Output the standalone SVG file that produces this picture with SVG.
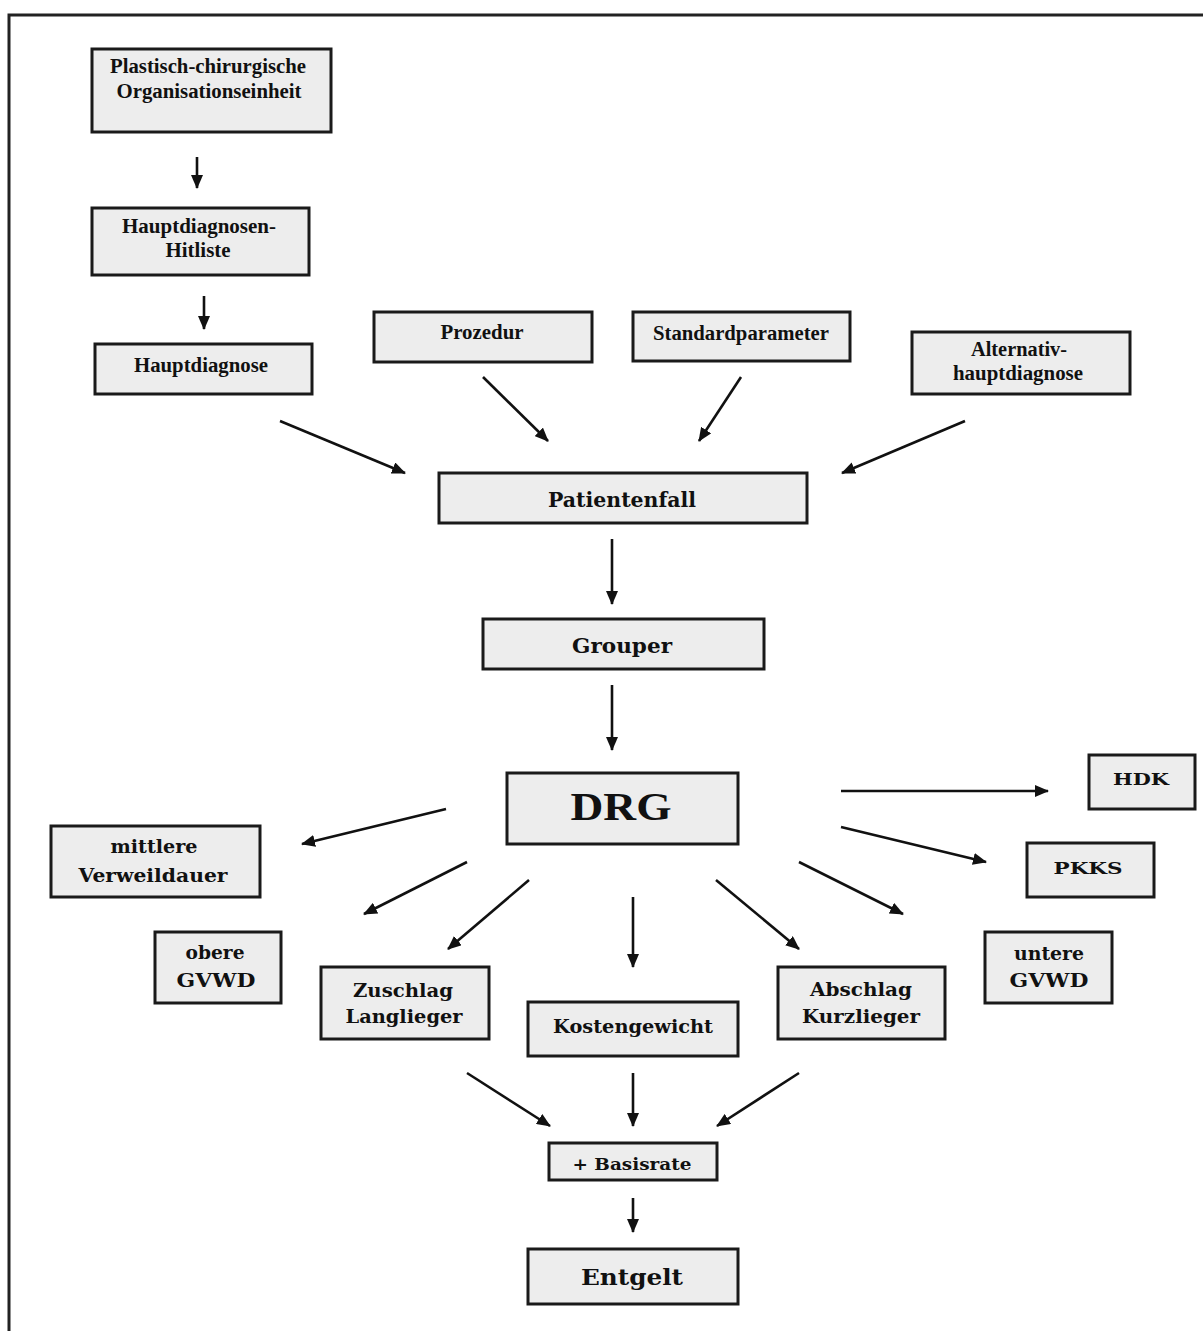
<svg xmlns="http://www.w3.org/2000/svg" width="1203" height="1331" viewBox="0 0 1203 1331">
<style>
.box{fill:#ededed;stroke:#1a1a1a;stroke-width:3}
.t{font-family:"Liberation Serif","Times New Roman",serif;font-weight:bold;fill:#111;text-anchor:middle;font-size:20px}
.d{font-family:"DejaVu Serif","Liberation Serif",serif;font-weight:bold;fill:#111;text-anchor:middle;font-size:18px}
.c{stroke:#111;stroke-width:2.6;fill:none;marker-end:url(#ah)}
</style>
<defs>
<marker id="ah" markerUnits="userSpaceOnUse" markerWidth="14" markerHeight="12" refX="13" refY="6" orient="auto">
<path d="M0,0 L14,6 L0,12 z" fill="#111"/>
</marker>
</defs>
<rect width="1203" height="1331" fill="#fff"/>
<path d="M9,1331 V15 H1203" fill="none" stroke="#222" stroke-width="3"/>

<g id="plastisch"><rect class="box" x="92" y="49" width="239" height="83"/><text class="t" x="208" y="73" textLength="196" lengthAdjust="spacingAndGlyphs">Plastisch-chirurgische</text><text class="t" x="209" y="98" textLength="185" lengthAdjust="spacingAndGlyphs">Organisationseinheit</text></g>
<g id="hitliste"><rect class="box" x="92" y="208" width="217" height="67"/><text class="t" x="199" y="233" textLength="154" lengthAdjust="spacingAndGlyphs">Hauptdiagnosen-</text><text class="t" x="198" y="257" textLength="65" lengthAdjust="spacingAndGlyphs">Hitliste</text></g>
<g id="hauptdiagnose"><rect class="box" x="95" y="344" width="217" height="50"/><text class="t" x="201" y="372" textLength="134" lengthAdjust="spacingAndGlyphs">Hauptdiagnose</text></g>
<g id="prozedur"><rect class="box" x="374" y="312" width="218" height="50"/><text class="t" x="482" y="339" textLength="83" lengthAdjust="spacingAndGlyphs">Prozedur</text></g>
<g id="standardparameter"><rect class="box" x="633" y="312" width="217" height="49"/><text class="t" x="741" y="340" textLength="176" lengthAdjust="spacingAndGlyphs">Standardparameter</text></g>
<g id="alternativ"><rect class="box" x="912" y="332" width="218" height="62"/><text class="t" x="1019" y="356" textLength="96" lengthAdjust="spacingAndGlyphs">Alternativ-</text><text class="t" x="1018" y="380" textLength="130" lengthAdjust="spacingAndGlyphs">hauptdiagnose</text></g>
<g id="patientenfall"><rect class="box" x="439" y="473" width="368" height="50"/><text class="d" x="622" y="507" style="font-size:21px" textLength="148" lengthAdjust="spacingAndGlyphs">Patientenfall</text></g>
<g id="grouper"><rect class="box" x="483" y="619" width="281" height="50"/><text class="d" x="622" y="653" style="font-size:21px" textLength="100" lengthAdjust="spacingAndGlyphs">Grouper</text></g>
<g id="drg"><rect class="box" x="507" y="773" width="231" height="71"/><text class="t" x="621" y="820" style="font-size:41px" textLength="101" lengthAdjust="spacingAndGlyphs">DRG</text></g>
<g id="hdk"><rect class="box" x="1089" y="755" width="106" height="54"/><text class="d" x="1141" y="785" style="font-size:17px" textLength="56" lengthAdjust="spacingAndGlyphs">HDK</text></g>
<g id="pkks"><rect class="box" x="1027" y="843" width="127" height="54"/><text class="d" x="1088" y="874" style="font-size:17px" textLength="69" lengthAdjust="spacingAndGlyphs">PKKS</text></g>
<g id="mittlere"><rect class="box" x="51" y="826" width="209" height="71"/><text class="d" x="154" y="853" textLength="87" lengthAdjust="spacingAndGlyphs">mittlere</text><text class="d" x="153" y="882" textLength="149" lengthAdjust="spacingAndGlyphs">Verweildauer</text></g>
<g id="obere"><rect class="box" x="155" y="932" width="126" height="71"/><text class="d" x="215" y="959" textLength="59" lengthAdjust="spacingAndGlyphs">obere</text><text class="d" x="216" y="987" textLength="79" lengthAdjust="spacingAndGlyphs">GVWD</text></g>
<g id="untere"><rect class="box" x="985" y="932" width="127" height="71"/><text class="d" x="1049" y="960" textLength="70" lengthAdjust="spacingAndGlyphs">untere</text><text class="d" x="1049" y="987" textLength="79" lengthAdjust="spacingAndGlyphs">GVWD</text></g>
<g id="zuschlag"><rect class="box" x="321" y="967" width="168" height="72"/><text class="d" x="403" y="997" textLength="100" lengthAdjust="spacingAndGlyphs">Zuschlag</text><text class="d" x="404" y="1023" textLength="117" lengthAdjust="spacingAndGlyphs">Langlieger</text></g>
<g id="abschlag"><rect class="box" x="778" y="967" width="167" height="72"/><text class="d" x="861" y="996" textLength="102" lengthAdjust="spacingAndGlyphs">Abschlag</text><text class="d" x="861" y="1023" textLength="118" lengthAdjust="spacingAndGlyphs">Kurzlieger</text></g>
<g id="kostengewicht"><rect class="box" x="528" y="1002" width="210" height="54"/><text class="d" x="633" y="1033" textLength="160" lengthAdjust="spacingAndGlyphs">Kostengewicht</text></g>
<g id="basisrate"><rect class="box" x="549" y="1143" width="168" height="37"/><text class="d" x="632" y="1170" style="font-size:16px" textLength="119" lengthAdjust="spacingAndGlyphs">+ Basisrate</text></g>
<g id="entgelt"><rect class="box" x="528" y="1249" width="210" height="55"/><text class="d" x="632" y="1285" style="font-size:23px" textLength="102" lengthAdjust="spacingAndGlyphs">Entgelt</text></g>

<g id="connectors">
<line class="c" x1="197" y1="157" x2="197" y2="188"/>
<line class="c" x1="204" y1="296" x2="204" y2="329"/>
<line class="c" x1="280" y1="421" x2="405" y2="473"/>
<line class="c" x1="483" y1="377" x2="548" y2="441"/>
<line class="c" x1="741" y1="377" x2="699" y2="441"/>
<line class="c" x1="965" y1="421" x2="842" y2="473"/>
<line class="c" x1="612" y1="539" x2="612" y2="604"/>
<line class="c" x1="612" y1="685" x2="612" y2="750"/>
<line class="c" x1="446" y1="809" x2="302" y2="844"/>
<line class="c" x1="467" y1="862" x2="364" y2="914"/>
<line class="c" x1="529" y1="880" x2="448" y2="949"/>
<line class="c" x1="633" y1="897" x2="633" y2="967"/>
<line class="c" x1="716" y1="880" x2="799" y2="949"/>
<line class="c" x1="799" y1="862" x2="903" y2="914"/>
<line class="c" x1="841" y1="827" x2="986" y2="862"/>
<line class="c" x1="841" y1="791" x2="1048" y2="791"/>
<line class="c" x1="467" y1="1073" x2="550" y2="1126"/>
<line class="c" x1="633" y1="1073" x2="633" y2="1126"/>
<line class="c" x1="799" y1="1073" x2="717" y2="1126"/>
<line class="c" x1="633" y1="1198" x2="633" y2="1232"/>
</g>
</svg>
